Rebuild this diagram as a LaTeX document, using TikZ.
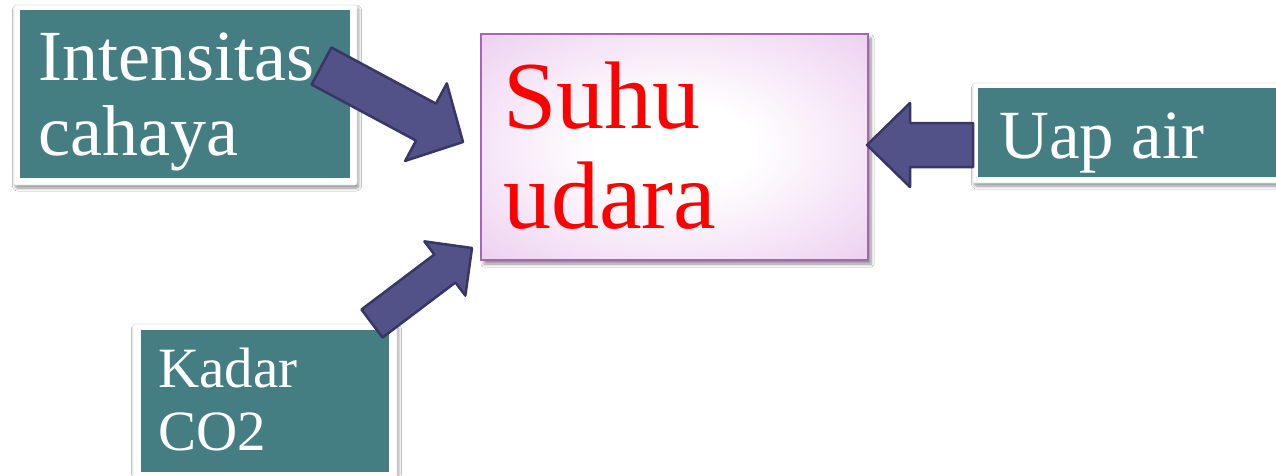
\documentclass[tikz,border=0pt]{standalone}
\usepackage{fontspec}
\setmainfont{Liberation Serif}
\usetikzlibrary{calc,shadows,shadows.blur}
\definecolor{tealbox}{RGB}{69,126,130}
\definecolor{arrfill}{RGB}{82,82,136}
\definecolor{arrdraw}{RGB}{56,54,100}
\definecolor{suhuedge}{RGB}{168,101,181}
\definecolor{suhumid}{RGB}{244,226,246}
\definecolor{suhuout}{RGB}{234,200,238}
\definecolor{suhucorner}{RGB}{226,184,232}
\definecolor{suhured}{RGB}{255,0,0}
\pgfdeclareradialshading{suhushade}{\pgfpoint{0bp}{0bp}}{color(0bp)=(white); color(10bp)=(white); color(26bp)=(suhumid); color(40bp)=(suhuout); color(50bp)=(suhucorner)}
\tikzset{
  whiteframe/.style={fill=white, draw=black!10, line width=0.6pt, rounded corners=2pt,
    blur shadow={shadow xshift=1.5pt, shadow yshift=-3pt, shadow opacity=45, shadow blur steps=6, shadow blur radius=3pt}},
  tealfill/.style={fill=tealbox},
  lbl/.style={anchor=base west, inner sep=0pt, text=white},
  blockarr/.style={fill=arrfill, draw=arrdraw, line width=2.5pt, line join=round},
}
\newcommand\blkarrow[5]{% tail, tip, shaft half, head half, head length
  \coordinate (ba-h) at ($(#2)!#5!(#1)$);
  \draw[blockarr] ($(#1)!#3!90:(#2)$) -- ($(ba-h)!#3!-90:(#1)$) -- ($(ba-h)!#4!-90:(#1)$)
    -- (#2) -- ($(ba-h)!#4!90:(#1)$) -- ($(ba-h)!#3!90:(#1)$) -- ($(#1)!#3!-90:(#2)$) -- cycle;}
\begin{document}
\begin{tikzpicture}[x=1pt, y=-1pt]
\useasboundingbox (0,0) rectangle (1276,475);
\clip (0,0) rectangle (1276,475);
\fill[white] (0,0) rectangle (1276,475);

% boxes: white frame + teal panel
\path[whiteframe] (14,5) rectangle (357,185);
\node[tealfill, inner sep=0pt, minimum width=330pt, minimum height=168pt] (int) at (185,94) {};
\path[whiteframe] (973,83) rectangle (1300,183);
\node[tealfill, inner sep=0pt, minimum width=330pt, minimum height=89pt] (uap) at (1143,132.5) {};
\path[whiteframe] (133,324) rectangle (397,480);
\node[tealfill, inner sep=0pt, minimum width=248pt, minimum height=142pt] (kad) at (265,401) {};

\node[draw=suhuedge, line width=1.5pt, shading=suhushade,
  minimum width=387pt, minimum height=226pt, inner sep=0pt,
  blur shadow={shadow xshift=3pt, shadow yshift=-4pt, shadow opacity=45, shadow blur steps=6, shadow blur radius=3pt}] (suhu) at (674.5,147) {};

% labels
\node[lbl, font=\fontsize{72}{75}\selectfont] (int1) at (38,80) {Intensitas};
\node[lbl, font=\fontsize{72}{75}\selectfont] (int2) at (38,155) {cahaya};
\node[lbl, text=suhured, font=\fontsize{96}{100}\selectfont] (suhu1) at (503,128) {Suhu};
\node[lbl, text=suhured, font=\fontsize{96}{100}\selectfont] (suhu2) at (503,228) {udara};
\node[lbl, font=\fontsize{69}{72}\selectfont] (uap1) at (999,158) {Uap air};
\node[lbl, font=\fontsize{57}{63}\selectfont] (kad1) at (158,387) {Kadar};
\node[lbl, font=\fontsize{57}{63}\selectfont] (kad2) at (158,450) {CO2};

% arrows
\coordinate (a1t) at (321.5,66);
\coordinate (a1h) at (463,142);
\blkarrow{a1t}{a1h}{21pt}{44pt}{42pt}
\coordinate (a2t) at (973,145);
\coordinate (a2h) at (867,145);
\blkarrow{a2t}{a2h}{22pt}{42pt}{43pt}
\coordinate (a3t) at (372,323.5);
\coordinate (a3h) at (472,248);
\blkarrow{a3t}{a3h}{17.5pt}{34pt}{34pt}
\end{tikzpicture}
\end{document}
